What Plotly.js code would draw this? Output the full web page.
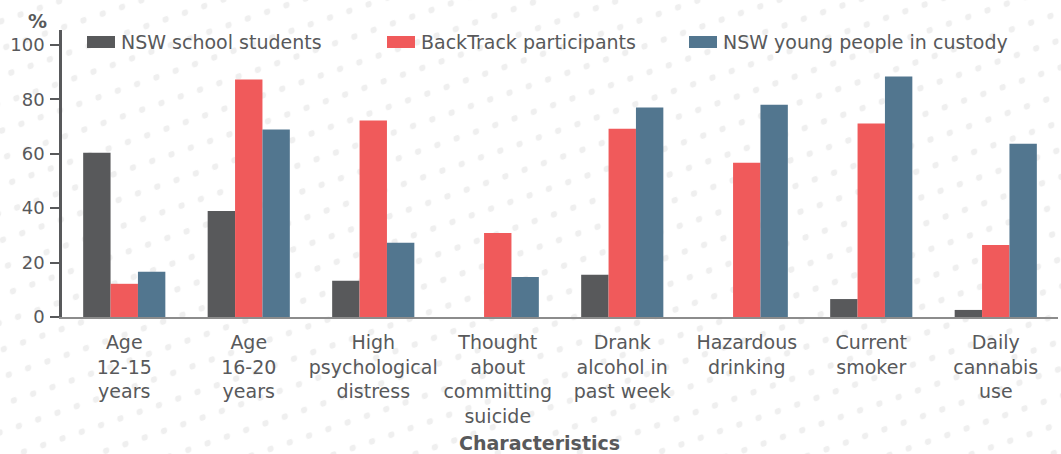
<!DOCTYPE html>
<html>
<head>
<meta charset="utf-8">
<script src="https://cdn.plot.ly/plotly-3.0.1.min.js"></script>
<style>
  html, body { margin: 0; padding: 0; background: #ffffff; }
  #wrap { position: relative; width: 1061px; height: 454px; overflow: hidden; }
  #bg { position: absolute; left: 0; top: 0; }
  #chart { position: absolute; left: 0; top: 0; width: 1061px; height: 454px; }
</style>
</head>
<body>
<div id="wrap">
  <svg id="bg" width="1061" height="454" xmlns="http://www.w3.org/2000/svg">
    <defs>
      <pattern id="dots" patternUnits="userSpaceOnUse" width="20.4" height="25.9"
               patternTransform="translate(383.7,81.3) rotate(-19) skewX(-7.9)">
        <ellipse cx="0" cy="0" rx="3.3" ry="3.0" fill="#efefef"/>
        <ellipse cx="20.4" cy="0" rx="3.3" ry="3.0" fill="#efefef"/>
        <ellipse cx="0" cy="25.9" rx="3.3" ry="3.0" fill="#efefef"/>
        <ellipse cx="20.4" cy="25.9" rx="3.3" ry="3.0" fill="#efefef"/>
      </pattern>
    </defs>
    <rect width="1061" height="454" fill="url(#dots)"/>
  </svg>
  <div id="chart"></div>
</div>
<script>
const categories = [
  "Age<br>12-15<br>years",
  "Age<br>16-20<br>years",
  "High<br>psychological<br>distress",
  "Thought<br>about<br>committing<br>suicide",
  "Drank<br>alcohol in<br>past week",
  "Hazardous<br>drinking",
  "Current<br>smoker",
  "Daily<br>cannabis<br>use"
];
const seriesNames = ["NSW school students", "BackTrack participants", "NSW young people in custody"];
const schoolStudents = [60.4, 39.0, 13.3, 0, 15.5, 0, 6.6, 2.6];
const backTrack = [12.2, 87.3, 72.2, 30.9, 69.2, 56.7, 71.1, 26.5];
const custody = [16.6, 68.9, 27.3, 14.7, 77.0, 78.0, 88.4, 63.7];
const yTickValues = [0, 20, 40, 60, 80, 100];
const colors = ["#58595b", "#f05a5b", "#52768f"];

const textColor = "#58595b";
const fontFamily = "'DejaVu Sans', 'Open Sans', sans-serif";

// plot area geometry (pixels)
const W = 1061, H = 454;
const M = { l: 62, r: 3, t: 30, b: 137 };
const plotW = W - M.l - M.r, plotH = H - M.t - M.b;
const px2x = px => (px - M.l) / plotW;
const py2y = py => (H - M.b - py) / plotH;

const seriesValues = [schoolStudents, backTrack, custody];
const traces = seriesValues.map((vals, i) => ({
  type: "bar",
  name: seriesNames[i],
  x: categories,
  y: vals,
  marker: { color: colors[i] },
  showlegend: false,
  hoverinfo: "x+y+name"
}));

// custom legend (swatch rectangles + labels)
const swatchLeft = [87, 387, 689];
const swatchW = 28, swatchTop = 36, swatchBot = 48, legendMidY = 42;
const legendShapes = seriesNames.map((n, i) => ({
  type: "rect", xref: "paper", yref: "paper",
  x0: px2x(swatchLeft[i]), x1: px2x(swatchLeft[i] + swatchW),
  y0: py2y(swatchBot), y1: py2y(swatchTop),
  fillcolor: colors[i], line: { width: 0 }
}));
const legendLabels = seriesNames.map((n, i) => ({
  text: n, xref: "paper", yref: "paper",
  x: px2x(swatchLeft[i] + swatchW + 4), y: py2y(legendMidY),
  xanchor: "left", yanchor: "middle", showarrow: false,
  font: { family: fontFamily, size: 19, color: textColor }
}));

const layout = {
  width: W,
  height: H,
  margin: { l: M.l, r: M.r, t: M.t, b: M.b, pad: 0, autoexpand: false },
  paper_bgcolor: "rgba(0,0,0,0)",
  plot_bgcolor: "rgba(0,0,0,0)",
  font: { family: fontFamily, size: 19, color: textColor },
  barmode: "group",
  bargap: 0.34,
  bargroupgap: 0,
  showlegend: false,
  xaxis: {
    type: "category",
    showgrid: false,
    zeroline: false,
    showline: true,
    linecolor: "#8c8c8c",
    linewidth: 2,
    ticks: "",
    ticklabelstandoff: 7,
    tickfont: { family: fontFamily, size: 19, color: textColor },
    fixedrange: true
  },
  yaxis: {
    range: [0, 105.5],
    tickvals: yTickValues,
    ticktext: yTickValues.map(String),
    showgrid: false,
    zeroline: false,
    showline: true,
    linecolor: textColor,
    linewidth: 2.5,
    ticks: "outside",
    ticklen: 9,
    tickwidth: 2,
    tickcolor: textColor,
    ticklabelstandoff: 2,
    tickfont: { family: fontFamily, size: 18, color: textColor },
    fixedrange: true
  },
  shapes: legendShapes,
  annotations: legendLabels.concat([
    {
      text: "<b>%</b>",
      xref: "paper", yref: "paper",
      x: px2x(37), y: py2y(21),
      xanchor: "center", yanchor: "middle",
      showarrow: false,
      font: { family: fontFamily, size: 19, color: textColor }
    },
    {
      text: "<b>Characteristics</b>",
      xref: "paper", yref: "paper",
      x: px2x(539.5), y: py2y(443),
      xanchor: "center", yanchor: "middle",
      showarrow: false,
      font: { family: fontFamily, size: 19, color: textColor }
    }
  ])
};

Plotly.newPlot("chart", traces, layout, { displayModeBar: false });
</script>
</body>
</html>
